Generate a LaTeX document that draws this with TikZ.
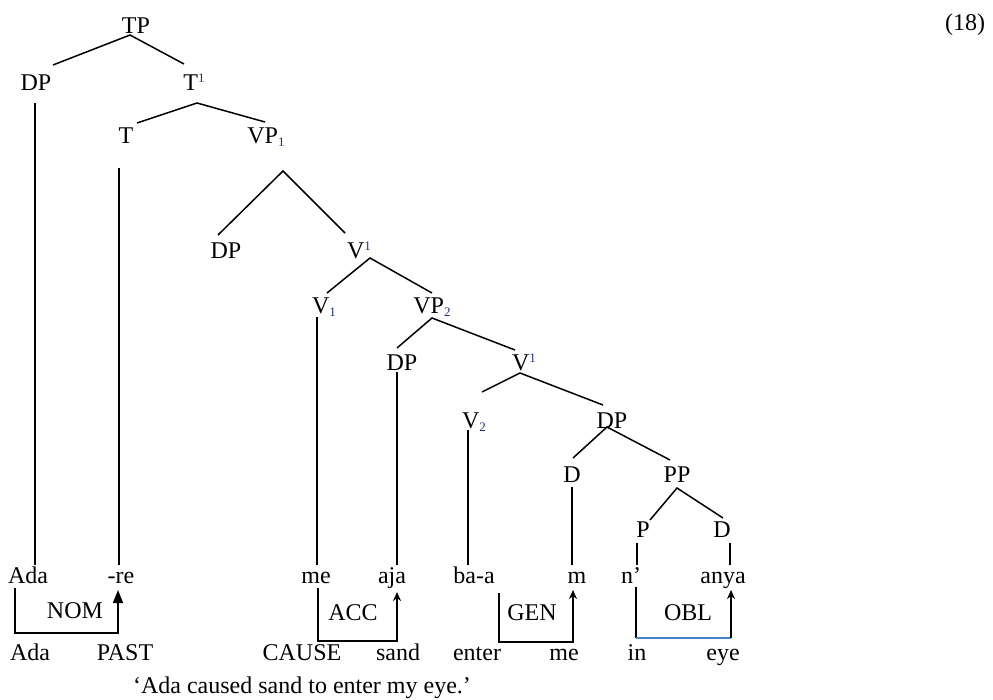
\documentclass[tikz,border=0pt]{standalone}
\usepackage{fontspec}
\setmainfont{Liberation Serif}
\usetikzlibrary{arrows.meta,calc}
\definecolor{oblblue}{RGB}{70,130,200}
\definecolor{idx}{RGB}{30,50,140}
\newcommand{\supi}[1]{\raisebox{8pt}{\fontsize{13}{13}\selectfont\color{idx}#1}}
\newcommand{\subi}[1]{\raisebox{-3pt}{\fontsize{13}{13}\selectfont\color{idx}#1}}
\begin{document}
\begin{tikzpicture}[x=1pt,y=-1pt,
  lbl/.style={inner sep=0pt, anchor=base, font=\fontsize{24}{28}\selectfont},
  tr/.style={line width=1.5pt},
  br/.style={line width=1.6pt},
  bigtip/.style={-{Triangle[width=10pt,length=13pt]}},
  smalltip/.style={-{Stealth[width=8pt,length=9pt]}}]
\useasboundingbox (0,0) rectangle (993,699);
% tree labels
\node[lbl] (tp) at (136,33) {TP};
\node[lbl] (dpA) at (36,90) {DP};
\node[lbl] (tbar) at (194,90) {T\supi{1}};
\node[lbl] (t) at (126,143) {T};
\node[lbl] (vp1) at (266,143) {VP\subi{1}};
\coordinate (vp1x) at (283,171);
\node[lbl] (dpB) at (226,258) {DP};
\node[lbl] (vbarA) at (359,258) {V\supi{1}};
\node[lbl] (vA) at (324,313) {V\subi{1}};
\node[lbl] (vp2) at (432,313) {VP\subi{2}};
\node[lbl] (dpC) at (402,370) {DP};
\node[lbl] (vbarB) at (524,370) {V\supi{1}};
\coordinate (dangle) at (482,392);
\node[lbl] (vB) at (474,428) {V\subi{2}};
\node[lbl] (dpD) at (612,428) {DP};
\node[lbl] (dA) at (572,482) {D};
\node[lbl] (pp) at (677,482) {PP};
\node[lbl] (p) at (643,537) {P};
\node[lbl] (dB) at (722,537) {D};
% words
\node[lbl] (wAda) at (28,583) {Ada};
\node[lbl] (wre) at (121,583) {-re};
\node[lbl] (wme) at (316,583) {me};
\node[lbl] (waja) at (392,583) {aja};
\node[lbl] (wbaa) at (474,583) {ba-a};
\node[lbl] (wm) at (577,583) {m};
\node[lbl] (wn) at (631,583) {n’};
\node[lbl] (wanya) at (723,583) {anya};
% glosses
\node[lbl] (gAda) at (30,660) {Ada};
\node[lbl] (gPAST) at (125,660) {PAST};
\node[lbl] (gCAUSE) at (302,660) {CAUSE};
\node[lbl] (gsand) at (398,660) {sand};
\node[lbl] (genter) at (477,660) {enter};
\node[lbl] (gme) at (564,660) {me};
\node[lbl] (gin) at (637,660) {in};
\node[lbl] (geye) at (723,660) {eye};
% case labels
\node[lbl] (nom) at (75,618) {NOM};
\node[lbl] (acc) at (353,620) {ACC};
\node[lbl] (gen) at (532,620) {GEN};
\node[lbl] (obl) at (688,620) {OBL};
% translation and number
\node[lbl] (trans) at (302,693) {‘Ada caused sand to enter my eye.’};
\node[lbl] (num) at (965,30) {(18)};
% tree branches
\draw[tr] ([shift={(17,-25)}]dpA.base) -- ([shift={(-6,2)}]tp.base) -- ([shift={(-10,-26)}]tbar.base);
\draw[tr] ([shift={(11,-20)}]t.base) -- ([shift={(3,13)}]tbar.base) -- ([shift={(-1,-21)}]vp1.base);
\draw[tr] ([shift={(-8,-23)}]dpB.base) -- (vp1x) -- ([shift={(-14,-25)}]vbarA.base);
\draw[tr] ([shift={(3,-20)}]vA.base) -- ([shift={(11,0)}]vbarA.base) -- ([shift={(0,-20)}]vp2.base);
\draw[tr] ([shift={(-5,-22)}]dpC.base) -- ([shift={(0,5)}]vp2.base) -- ([shift={(-9,-20)}]vbarB.base);
\draw[tr] (dangle) -- ([shift={(-4,3)}]vbarB.base) -- ([shift={(-9,-23)}]dpD.base);
\draw[tr] ([shift={(1,-24)}]dA.base) -- ([shift={(-5,-1)}]dpD.base) -- ([shift={(-7,-22)}]pp.base);
\draw[tr] ([shift={(7,-17)}]p.base) -- ([shift={(0,6)}]pp.base) -- ([shift={(1,-19)}]dB.base);
% vertical lines to words
\draw[tr] ([shift={(-1,13)}]dpA.base) -- ([shift={(7,-18)}]wAda.base);
\draw[tr] ([shift={(-7,25)}]t.base) -- ([shift={(-2,-18)}]wre.base);
\draw[tr] ([shift={(-7,4)}]vA.base) -- ([shift={(1,-18)}]wme.base);
\draw[tr] ([shift={(-5,2)}]dpC.base) -- ([shift={(5,-18)}]waja.base);
\draw[tr] ([shift={(-6,2)}]vB.base) -- ([shift={(-6,-18)}]wbaa.base);
\draw[tr] ([shift={(0,5)}]dA.base) -- ([shift={(-5,-18)}]wm.base);
\draw[tr] ([shift={(-6,6)}]p.base) -- ([shift={(6,-18)}]wn.base);
\draw[tr] ([shift={(8,6)}]dB.base) -- ([shift={(7,-18)}]wanya.base);
% case brackets
\draw[br,bigtip] ([shift={(-13,5)}]wAda.base) -- ++(0,45) -| ([shift={(-3,7)}]wre.base);
\draw[br,smalltip] ([shift={(2,5)}]wme.base) -- ++(0,53) -| ([shift={(5,9)}]waja.base);
\draw[br,smalltip] ([shift={(25,10)}]wbaa.base) -- ++(0,49) -| ([shift={(-4,7)}]wm.base);
\draw[br] ([shift={(5,4)}]wn.base) -- ++(0,51) coordinate (oblc);
\coordinate (obltip) at ([shift={(8,7)}]wanya.base);
\draw[br,oblblue] (oblc) -- (oblc -| obltip);
\draw[br,smalltip] (oblc -| obltip) -- (obltip);
\end{tikzpicture}
\end{document}
